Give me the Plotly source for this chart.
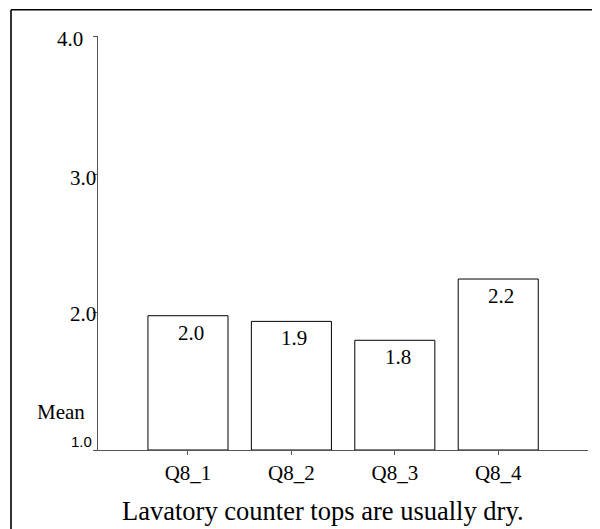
import plotly.graph_objects as go

# ---- data ----
categories = ["Q8_1", "Q8_2", "Q8_3", "Q8_4"]
means = [1.973, 1.932, 1.795, 2.239]
ytick_values = [1.0, 2.0, 3.0, 4.0]
ytick_labels = ["1.0", "2.0", "3.0", "4.0"]
y_title = "Mean"
chart_title = "Lavatory counter tops are usually dry."

SERIF = "Liberation Serif, Times New Roman, serif"
SANS = "Liberation Sans, Arial, sans-serif"

OFF = 8  # page body margin
W, H = 600 - 2 * OFF, 529 - OFF
L, T = 98 - OFF, 36 - OFF
R = W - (588 - OFF)
B = H - (450 - OFF)
PW, PH = W - L - R, H - T - B


def px(xpix):
    return (xpix - OFF - L) / PW


def py(ypix):
    return (T + PH - (ypix - OFF)) / PH


fig = go.Figure()
fig.add_trace(go.Bar(
    x=categories, y=[m - 1.0 for m in means], base=1.0,
    marker=dict(color="white", line=dict(color="black", width=1)),
    width=0.774, hoverinfo="skip", showlegend=False,
))

ann = []
# bar value labels
for c, m in zip(categories, means):
    ann.append(dict(x=c, y=m, xref="x", yref="y", text=f"{m:.1f}", showarrow=False,
                    xanchor="center", yanchor="middle", xshift=3, yshift=-17,
                    font=dict(family=SERIF, size=21, color="black")))

# y tick labels (idiosyncratic placement as in reference)
tick_style = {
    "1.0": dict(xshift=-4.7, yshift=8.5, font=dict(family=SANS, size=15, color="black")),
    "2.0": dict(xshift=-1.3, yshift=-2.2, font=dict(family=SERIF, size=21, color="black")),
    "3.0": dict(xshift=-1.3, yshift=-4, font=dict(family=SERIF, size=21, color="black")),
    "4.0": dict(xshift=-13.7, yshift=-2.8, font=dict(family=SERIF, size=21, color="black")),
}
for v, lab in zip(ytick_values, ytick_labels):
    st = tick_style[lab]
    ann.append(dict(x=0, y=v, xref="paper", yref="y", text=lab, showarrow=False,
                    xanchor="right", yanchor="middle", borderpad=0, **st))

ann.append(dict(x=0, y=1.0, xref="paper", yref="y", text=y_title, showarrow=False,
                xanchor="center", yanchor="middle", xshift=-37.5, yshift=38.3,
                font=dict(family=SERIF, size=21, color="black")))

ann.append(dict(x=px(322.5), y=0, xref="paper", yref="paper", text=chart_title,
                showarrow=False, xanchor="center", yanchor="middle", yshift=-61,
                font=dict(family=SERIF, size=26.5, color="black")))

frame = dict(color="black", width=1.6)
fig.update_layout(
    width=W, height=H,
    margin=dict(l=L, r=R, t=T, b=B, pad=0),
    paper_bgcolor="white", plot_bgcolor="white",
    annotations=ann,
    xaxis=dict(range=[-0.870, 3.868], showgrid=False, zeroline=False,
               showline=True, linecolor="#555", linewidth=1,
               ticks="outside", ticklen=4, tickcolor="#555",
               tickfont=dict(family=SERIF, size=21, color="black")),
    yaxis=dict(range=[1.0, 4.0], tickvals=ytick_values, showticklabels=False,
               showgrid=False, zeroline=False, showline=True, linecolor="#555",
               linewidth=1, ticks="outside", ticklen=4, tickcolor="#555"),
    shapes=[
        dict(type="line", xref="paper", yref="paper",
             x0=px(11), x1=px(11), y0=py(9.8), y1=py(560), line=frame),
        dict(type="line", xref="paper", yref="paper",
             x0=px(11), x1=px(640), y0=py(9.8), y1=py(9.8), line=frame),
    ],
    bargap=0.226,
)

fig.write_html("out.html")
